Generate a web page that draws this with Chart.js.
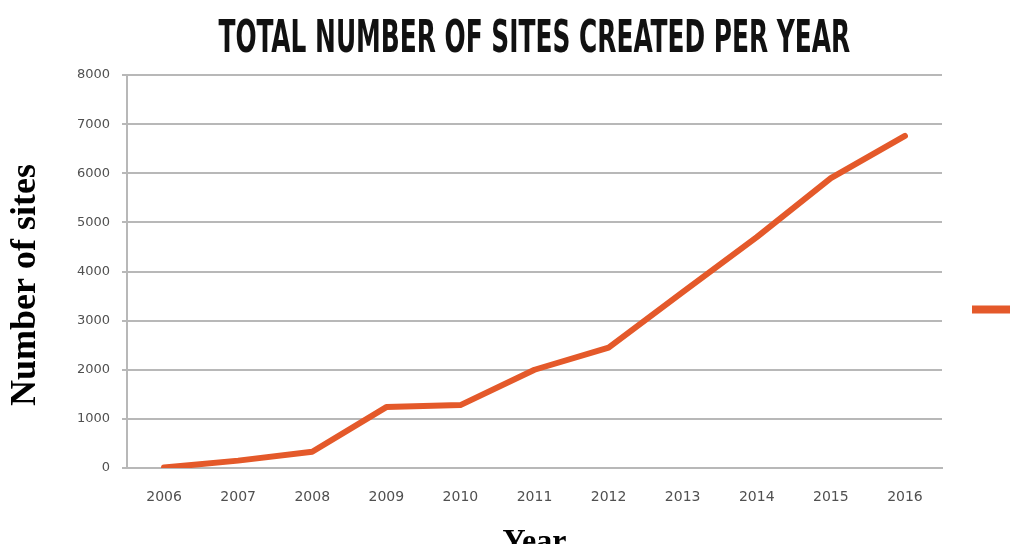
<!DOCTYPE html>
<html>
<head>
<meta charset="utf-8">
<script src="https://cdn.jsdelivr.net/npm/chart.js@4.4.1/dist/chart.umd.min.js"></script>
<style>
  html, body { margin: 0; padding: 0; background: #fff; overflow: hidden; }
  #wrap { position: relative; width: 1010px; height: 544px; }
  #titulo {
    position: absolute; left: 20px; top: 14px; width: 1010px; margin: 0;
    text-align: center; white-space: nowrap;
    font-family: "Liberation Sans Narrow", "DejaVu Sans Condensed", sans-serif;
    font-weight: bold; font-size: 45px; line-height: 45px; color: #111;
  }
  #titulo span { display: inline-block; transform-origin: center; }
</style>
</head>
<body>
<div id="wrap">
  <h1 id="titulo"><span>TOTAL NUMBER OF SITES CREATED PER YEAR</span></h1>
  <canvas id="chartSitios"></canvas>
</div>
<script>
// datos
const anios = ['2006', '2007', '2008', '2009', '2010', '2011', '2012', '2013', '2014', '2015', '2016'];
const sitios = [10, 150, 330, 1240, 1280, 2000, 2450, 3580, 4700, 5900, 6760];
const ticksY = [0, 1000, 2000, 3000, 4000, 5000, 6000, 7000, 8000];

const naranja = '#e4592a';
const gris = '#b8b8b8';

// encoger el titulo a lo ancho, como la fuente condensada original
const span = document.querySelector('#titulo span');
span.style.transform = 'scaleX(' + (632 / span.offsetWidth) + ')';

new Chart(document.getElementById('chartSitios'), {
    type: 'line',
    data: {
        labels: anios,
        datasets: [{
            label: 'Sites',
            data: sitios,
            borderColor: naranja,
            backgroundColor: naranja,
            borderWidth: 6,
            borderCapStyle: 'round',
            borderJoinStyle: 'round',
            pointRadius: 0,
            tension: 0
        }]
    },
    options: {
        responsive: true,
        maintainAspectRatio: false,
        animation: false,
        devicePixelRatio: 1,
        layout: { padding: { top: 75, left: 0, right: 0, bottom: 0 } },
        plugins: {
            tooltip: { enabled: false },
            legend: {
                position: 'right',
                maxWidth: 68,
                labels: {
                    boxWidth: 45,
                    boxHeight: 8,
                    padding: 30,
                    font: { size: 12 },
                    generateLabels: () => [{
                        text: '',
                        fillStyle: naranja,
                        strokeStyle: naranja,
                        lineWidth: 0,
                        hidden: false,
                        datasetIndex: 0
                    }]
                }
            }
        },
        scales: {
            x: {
                offset: true,
                afterFit: (scale) => { scale.height = 76; },
                grid: { display: false, drawTicks: false },
                border: { display: true, color: gris, width: 2 },
                ticks: {
                    padding: 21,
                    color: '#505050',
                    font: { family: 'DejaVu Sans', size: 14 }
                },
                title: {
                    display: true,
                    text: 'Year',
                    color: '#000',
                    padding: { top: 0, bottom: -18 },
                    font: { family: 'Liberation Serif', size: 32, weight: 'bold', lineHeight: 1.2 }
                }
            },
            y: {
                min: 0,
                max: 8000,
                afterFit: (scale) => { scale.width = 127; },
                afterBuildTicks: (scale) => { scale.ticks = ticksY.map(v => ({ value: v })); },
                grid: { color: gris, lineWidth: 2, tickLength: 5, drawTicks: true },
                border: { display: true, color: gris, width: 2 },
                ticks: {
                    padding: 12,
                    color: '#505050',
                    font: { family: 'DejaVu Sans', size: 13 },
                    callback: (v) => String(v)
                },
                title: {
                    display: true,
                    // espacios al final para bajar el texto como en el original
                    text: 'Number of sites\u00a0\u00a0\u00a0',
                    color: '#000',
                    padding: { top: 4, bottom: 0 },
                    font: { family: 'Liberation Serif', size: 36, weight: 'bold', lineHeight: 1.2 }
                }
            }
        }
    }
});
</script>
</body>
</html>
